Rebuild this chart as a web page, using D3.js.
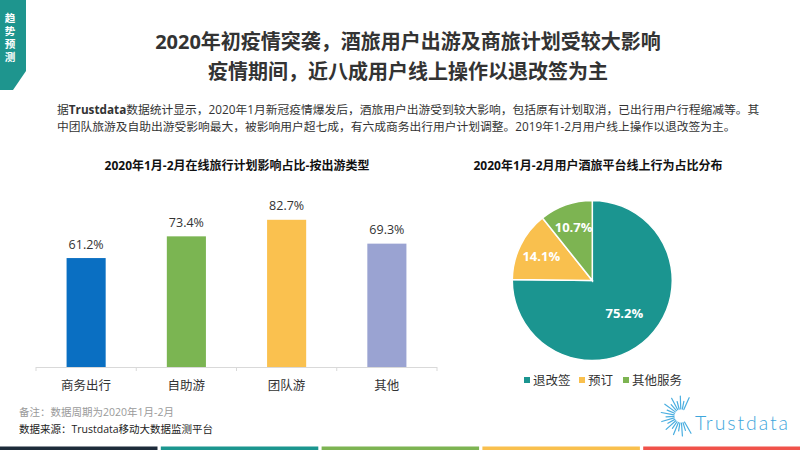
<!DOCTYPE html>
<html>
<head>
<meta charset="utf-8">
<script src="https://cdn.jsdelivr.net/npm/d3@7"></script>
<style>
  body { margin: 0; background: #fff; }
  svg { display: block; font-family: "Open Sans", "Noto Sans CJK SC", sans-serif; }
</style>
</head>
<body>
<div id="chart"></div>
<script>
// bar chart data
var categories = ["商务出行", "自助游", "团队游", "其他"];
var values = [61.2, 73.4, 82.7, 69.3];
var barColors = ["#0a6fc2", "#7bb552", "#fac14f", "#9aa3d2"];

// pie data
var pieLabels = ["退改签", "预订", "其他服务"];
var pieValues = [75.2, 14.1, 10.7];
var pieColors = ["#1b9590", "#f9c04e", "#7db452"];

var footerColors = ["#1d2b3a", "#1b968f", "#7db452", "#f9c04e", "#f0524a"];

var width = 800, height = 450;

var svg = d3.select("#chart").append("svg")
  .attr("width", width)
  .attr("height", height);

// corner badge
svg.append("path")
  .attr("d", "M0,0 L26,0 L26,71 L13,90 L0,90 Z")
  .attr("fill", "#1e958e");
svg.append("g").selectAll("text")
  .data("趋势预测".split(""))
  .enter().append("text")
  .attr("x", 10)
  .attr("y", function(d, i) { return 18 + i * 12.9; })
  .attr("text-anchor", "middle")
  .attr("dominant-baseline", "central")
  .attr("font-size", 10.6)
  .attr("font-weight", "bold")
  .attr("fill", "#fff")
  .text(function(d) { return d; });

// headline
var titles = ["2020年初疫情突袭，酒旅用户出游及商旅计划受较大影响", "疫情期间，近八成用户线上操作以退改签为主"];
svg.append("g").selectAll("text")
  .data(titles)
  .enter().append("text")
  .attr("x", 408)
  .attr("y", function(d, i) { return 41 + i * 30; })
  .attr("text-anchor", "middle")
  .attr("dominant-baseline", "central")
  .attr("font-size", 20)
  .attr("font-weight", "bold")
  .attr("fill", "#333")
  .text(function(d) { return d; });

// paragraph
var para = svg.append("text")
  .attr("font-size", 11.75)
  .attr("fill", "#333");
var l1 = para.append("tspan").attr("x", 57).attr("y", 114);
l1.append("tspan").text("据");
l1.append("tspan").attr("font-weight", "bold").text("Trustdata");
l1.append("tspan").text("数据统计显示，2020年1月新冠疫情爆发后，酒旅用户出游受到较大影响，包括原有计划取消，已出行用户行程缩减等。其");
para.append("tspan").attr("x", 57).attr("y", 131)
  .text("中团队旅游及自助出游受影响最大，被影响用户超七成，有六成商务出行用户计划调整。2019年1-2月用户线上操作以退改签为主。");

// ---- bar chart ----
var x = d3.scaleBand()
  .domain(categories)
  .range([36, 437])
  .paddingInner(0.61)
  .paddingOuter(0.305);

var y = d3.scaleLinear()
  .domain([0, 100])
  .range([367, 189]);

svg.append("text")
  .attr("x", 237)
  .attr("y", 165)
  .attr("text-anchor", "middle")
  .attr("dominant-baseline", "central")
  .attr("font-size", 12)
  .attr("font-weight", "bold")
  .attr("fill", "#111")
  .text("2020年1月-2月在线旅行计划影响占比-按出游类型");

svg.append("g").selectAll("rect")
  .data(values)
  .enter().append("rect")
  .attr("x", function(d, i) { return x(categories[i]); })
  .attr("y", function(d) { return y(d); })
  .attr("width", x.bandwidth())
  .attr("height", function(d) { return y(0) - y(d); })
  .attr("fill", function(d, i) { return barColors[i]; });

svg.append("g").selectAll("text")
  .data(values)
  .enter().append("text")
  .attr("x", function(d, i) { return x(categories[i]) + x.bandwidth() / 2; })
  .attr("y", function(d) { return y(d) - 14; })
  .attr("text-anchor", "middle")
  .attr("dominant-baseline", "central")
  .attr("font-size", 12.5)
  .attr("fill", "#333")
  .text(function(d) { return d.toFixed(1) + "%"; });

// axis: ticks at band edges
var edges = categories.map(function(c) { return x(c) - x.step() * x.paddingInner() / 2; });
edges.push(437);
var axisG = svg.append("g").attr("stroke", "#d9d9d9").attr("stroke-width", 1);
axisG.append("line")
  .attr("x1", 36).attr("x2", 437)
  .attr("y1", y(0) + 0.5).attr("y2", y(0) + 0.5);
axisG.selectAll("line.tick")
  .data(edges)
  .enter().append("line")
  .attr("class", "tick")
  .attr("x1", function(d) { return d; }).attr("x2", function(d) { return d; })
  .attr("y1", y(0)).attr("y2", y(0) + 4);

svg.append("g").selectAll("text")
  .data(categories)
  .enter().append("text")
  .attr("x", function(d) { return x(d) + x.bandwidth() / 2; })
  .attr("y", 385)
  .attr("text-anchor", "middle")
  .attr("dominant-baseline", "central")
  .attr("font-size", 12.5)
  .attr("fill", "#333")
  .text(function(d) { return d; });

// ---- pie chart ----
var cx = 592.3, cy = 280.5, r = 80;

svg.append("text")
  .attr("x", 598)
  .attr("y", 165)
  .attr("text-anchor", "middle")
  .attr("dominant-baseline", "central")
  .attr("font-size", 12)
  .attr("font-weight", "bold")
  .attr("fill", "#111")
  .text("2020年1月-2月用户酒旅平台线上行为占比分布");

var pie = d3.pie().sort(null).value(function(d) { return d; });
var arcs = pie(pieValues);
var arc = d3.arc().innerRadius(0).outerRadius(r);

var pieG = svg.append("g").attr("transform", "translate(" + cx + "," + cy + ")");
pieG.selectAll("path")
  .data(arcs)
  .enter().append("path")
  .attr("d", arc)
  .attr("fill", function(d, i) { return pieColors[i]; })
  .attr("stroke", "#fff")
  .attr("stroke-width", 1.5);

pieG.selectAll("text")
  .data(arcs)
  .enter().append("text")
  .attr("transform", function(d) {
    var rr = d.data > 50 ? r * 0.57 : r * 0.71;
    var c = d3.arc().innerRadius(rr).outerRadius(rr).centroid(d);
    return "translate(" + c[0] + "," + c[1] + ")";
  })
  .attr("text-anchor", "middle")
  .attr("dominant-baseline", "central")
  .attr("font-size", 13)
  .attr("font-weight", "bold")
  .attr("fill", "#fff")
  .text(function(d) { return d.data.toFixed(1) + "%"; });

// legend
var legendX = [527, 582, 626];
var legend = svg.append("g").selectAll("g")
  .data(pieLabels)
  .enter().append("g")
  .attr("transform", function(d, i) { return "translate(" + legendX[i] + ",380)"; });
legend.append("rect")
  .attr("x", -3).attr("y", -3)
  .attr("width", 6).attr("height", 6)
  .attr("fill", function(d, i) { return pieColors[i]; });
legend.append("text")
  .attr("x", 6)
  .attr("dominant-baseline", "central")
  .attr("font-size", 12.5)
  .attr("fill", "#333")
  .text(function(d) { return d; });

// footnotes
svg.append("text")
  .attr("x", 19).attr("y", 412)
  .attr("dominant-baseline", "central")
  .attr("font-size", 10.5)
  .attr("fill", "#9a9a9a")
  .text("备注：数据周期为2020年1月-2月");
svg.append("text")
  .attr("x", 19).attr("y", 429)
  .attr("dominant-baseline", "central")
  .attr("font-size", 10.5)
  .attr("fill", "#222")
  .text("数据来源：Trustdata移动大数据监测平台");

// logo
var logo = svg.append("g").attr("stroke", "#4aaee0").attr("stroke-width", 1.2).attr("stroke-linecap", "round");
d3.range(60, 305, 13).forEach(function(a, i) {
  var t = a * Math.PI / 180;
  var r0 = 7, r1 = i % 2 ? 15 : 20;
  logo.append("line")
    .attr("x1", 681 + r0 * Math.cos(t)).attr("y1", 416 + r0 * Math.sin(t))
    .attr("x2", 681 + r1 * Math.cos(t)).attr("y2", 416 + r1 * Math.sin(t));
});
svg.append("text")
  .attr("x", 695).attr("y", 429.5)
  .attr("font-family", "Lato, 'Open Sans', sans-serif")
  .attr("font-weight", 300)
  .attr("font-size", 19.5)
  .attr("textLength", 93)
  .attr("lengthAdjust", "spacing")
  .attr("fill", "#3ea6dc")
  .text("Trustdata");

// bottom stripes
svg.append("g").selectAll("rect")
  .data(footerColors)
  .enter().append("rect")
  .attr("x", function(d, i) { return i * 160.8; })
  .attr("y", 446.5)
  .attr("width", 157.5)
  .attr("height", 3.5)
  .attr("fill", function(d) { return d; });
</script>
</body>
</html>
